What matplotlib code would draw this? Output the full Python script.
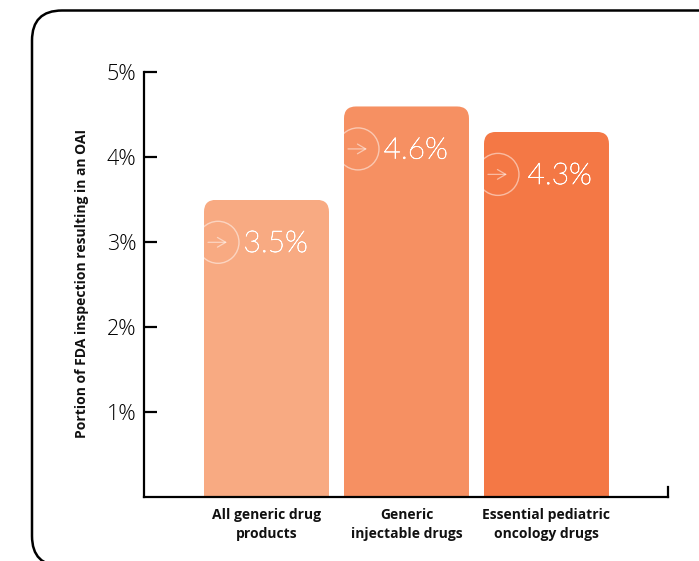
import matplotlib
matplotlib.use('Agg')
import matplotlib.pyplot as plt
import matplotlib.patheffects as pe
from matplotlib.patches import FancyBboxPatch, Ellipse
from matplotlib.transforms import Affine2D

# Chart data
categories = ['All generic drug\nproducts', 'Generic\ninjectable drugs', 'Essential pediatric\noncology drugs']
values = [3.5, 4.6, 4.3]
colors = ['#F8AA82', '#F69062', '#F47845']
y_ticks = [1, 2, 3, 4, 5]
y_tick_labels = ['1%', '2%', '3%', '4%', '5%']

W, H = 699, 561
fig = plt.figure(figsize=(W / 100, H / 100), dpi=100)
ax = fig.add_axes([144 / W, (H - 497) / H, 524 / W, 424.5 / H])
ax.set_xlim(-0.875, 2.868)
ax.set_ylim(0, 5)
ax.patch.set_alpha(0)

# Outer rounded frame, runs off the right and bottom edges
frame = FancyBboxPatch((32, -5), 800, 555.5, boxstyle='round,pad=0,rounding_size=30',
                       transform=Affine2D(), fc='none', ec='black', lw=1.8, clip_on=False)
fig.add_artist(frame)

bar_width = 125 / 140
bars = ax.bar(range(3), values, width=bar_width, color=colors, linewidth=0, zorder=2)

x_per_px = 1 / 140
y_per_px = 5 / 424.5
radius_px = 12
text_offset_px = [39.5, 39.5, 43.5]

for i, (bar, v) in enumerate(zip(bars, values)):
    left = bar.get_x()

    # Round only the top corners by clipping with a box that reaches below the axis
    clip_box = FancyBboxPatch((left, -1), bar_width, v + 1,
                              boxstyle=f'round,pad=0,rounding_size={radius_px * x_per_px}',
                              mutation_aspect=y_per_px / x_per_px,
                              transform=ax.transData, fc='none', ec='none')
    ax.add_patch(clip_box)
    bar.set_clip_path(clip_box)

    # Circle with arrow, cut off by the left edge of the bar
    cy = v - 0.5
    circle = Ellipse((left + 14 * x_per_px, cy), 42 * x_per_px, 42 * y_per_px,
                     fc='none', ec='white', alpha=0.5, lw=1.0, zorder=3)
    ax.add_patch(circle)
    circle.set_clip_path(bar.get_path(), bar.get_transform())
    ax.annotate('', xy=(left + 23 * x_per_px, cy), xytext=(left + 4 * x_per_px, cy),
                arrowprops=dict(arrowstyle='->,head_length=0.6,head_width=0.35', color='white',
                                alpha=0.5, lw=0.9, shrinkA=0, shrinkB=0), zorder=3)

    # Hairline face with a thin stroke to get the light numerals
    label = ax.text(left + text_offset_px[i] * x_per_px, cy + 0.01, f'{v}%', color='white',
                    fontsize=21.5, family='Lato', weight=100, ha='left', va='center_baseline', zorder=4)
    label.set_path_effects([pe.withStroke(linewidth=0.5, foreground='white')])

ax.spines['top'].set_visible(False)
for side in ['left', 'bottom', 'right']:
    ax.spines[side].set_linewidth(1.6)
ax.spines['right'].set_bounds(0, 0.12)

ax.set_yticks(y_ticks)
ax.set_yticklabels(y_tick_labels, family='Open Sans', weight=300, fontsize=15.5, color='black')
ax.tick_params(axis='y', direction='in', length=9.4, width=1.6, pad=5.5)
ax.set_xticks(range(3))
ax.set_xticklabels(categories, family='Open Sans', weight='bold',
                   fontsize=10, linespacing=1.4, color='#111111')
ax.tick_params(axis='x', length=0, pad=8)

fig.text(82 / W, 1 - 283 / H, 'Portion of FDA inspection resulting in an OAI', rotation=90,
         family='Open Sans', weight='bold', fontsize=10, color='#111111',
         ha='center', va='center')

fig.savefig('out.png', dpi=100)
